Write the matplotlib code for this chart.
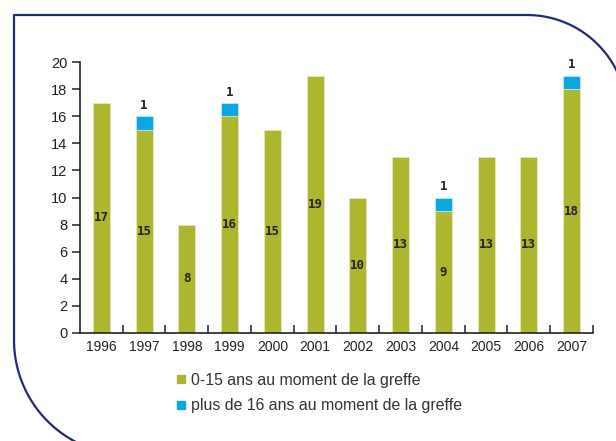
import matplotlib
matplotlib.use("Agg")
import matplotlib.pyplot as plt
from matplotlib.lines import Line2D
import numpy as np

years = ["1996", "1997", "1998", "1999", "2000", "2001", "2002", "2003", "2004", "2005", "2006", "2007"]
young = [17, 15, 8, 16, 15, 19, 10, 13, 9, 13, 13, 18]
older = [0, 1, 0, 1, 0, 0, 0, 0, 1, 0, 0, 1]
yticks = [0, 2, 4, 6, 8, 10, 12, 14, 16, 18, 20]
legend_labels = ["0-15 ans au moment de la greffe", "plus de 16 ans au moment de la greffe"]

GREEN = "#aeb52f"
BLUE = "#0aa8e0"
EDGE = "#e6e9b8"
TXT = "#222222"

W, H = 616, 441
fig = plt.figure(figsize=(W / 100, H / 100), dpi=100)
fig.patch.set_facecolor("white")


def arc(cx, cy, r, a0, a1, n=80):
    t = np.linspace(np.radians(a0), np.radians(a1), n)
    return list(zip(cx + r * np.cos(t), cy + r * np.sin(t)))


# rounded frame (top-right and bottom-left corners rounded), in pixel coordinates
R = 100
x0, y0 = 14, 441 - 15
pts = arc(527, y0 - R, R, -25, 90)
pts.append((x0, y0))
pts.append((x0, 441 - 340))
pts += arc(x0 + 115, 441 - 340, 115, 180, 290)
xs = [p[0] / W for p in pts]
ys = [p[1] / H for p in pts]
fig.add_artist(Line2D(xs, ys, transform=fig.transFigure, color="#1f2a7a", lw=1.6, solid_capstyle="butt"))

ax = fig.add_axes([80 / W, (441 - 333) / H, (593 - 80) / W, (333 - 62) / H])
x = np.arange(len(years))
bw = 0.4
ax.bar(x, young, width=bw, color=GREEN, edgecolor=EDGE, linewidth=0.6, zorder=2)
idx = [i for i in range(len(years)) if older[i] > 0]
ax.bar([x[i] for i in idx], [older[i] for i in idx], width=bw, bottom=[young[i] for i in idx],
       color=BLUE, edgecolor="#bfe6f5", linewidth=0.6, zorder=2)

for i in range(len(years)):
    ax.text(x[i], young[i] / 2, str(young[i]), ha="center", va="center",
            family="DejaVu Sans Mono", fontsize=9, fontweight="bold", color=TXT, zorder=3)
    if older[i] > 0:
        ax.text(x[i], young[i] + older[i] + 0.3, str(older[i]), ha="center", va="bottom",
                family="DejaVu Sans Mono", fontsize=9, fontweight="bold", color=TXT, zorder=3)

ax.set_xlim(-0.5, len(years) - 0.5)
ax.set_ylim(0, 20)
ax.set_yticks(yticks)
ax.set_yticklabels([str(v) for v in yticks], family="Liberation Sans", fontsize=10.5, color=TXT)
ax.set_xticks(x)
ax.set_xticklabels(years, family="Liberation Sans", fontsize=10, color=TXT)
ax.set_xticks(np.arange(len(years)) + 0.5, minor=True)
ax.tick_params(axis="x", which="major", length=0, pad=5)
ax.tick_params(axis="x", which="minor", length=6, width=1.1, direction="in", color="#222222")
ax.tick_params(axis="y", length=6, width=1.1, direction="out", color="#222222", pad=3)
for s in ["top", "right"]:
    ax.spines[s].set_visible(False)
for s in ["left", "bottom"]:
    ax.spines[s].set_linewidth(1.2)
    ax.spines[s].set_color("#222222")

handles = [Line2D([], [], marker="s", linestyle="none", markersize=5.5, color=GREEN),
           Line2D([], [], marker="s", linestyle="none", markersize=5.5, color=BLUE)]
leg = fig.legend(handles, legend_labels, loc="upper left", bbox_to_anchor=(176 / W, (441 - 373) / H),
                 frameon=False, prop={"family": "Liberation Sans", "size": 11.4},
                 handlelength=0.6, handletextpad=0.35, labelspacing=0.64, borderpad=0, borderaxespad=0)
for t in leg.get_texts():
    t.set_color("#333333")

fig.savefig("out.png", dpi=100)
